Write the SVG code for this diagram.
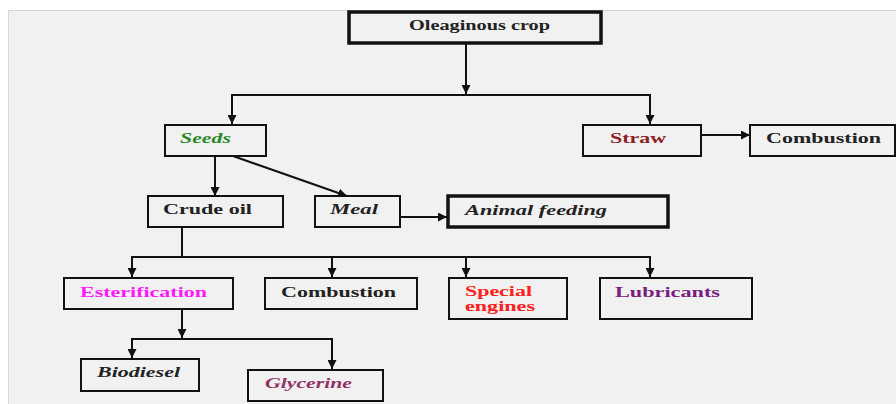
<svg xmlns="http://www.w3.org/2000/svg" width="896" height="404" viewBox="0 0 896 404">
<style>
.box{fill:none;stroke:#111;stroke-width:2}
.thick{fill:none;stroke:#111;stroke-width:3.5}
.t{font-family:'Liberation Serif','Times New Roman','DejaVu Serif',serif;font-weight:bold;font-size:15px;fill:#222}
.s{font-size:14px}
.i{font-style:italic}
.c{fill:none;stroke:#111;stroke-width:2}
</style>
<defs>
<marker id="ah" markerUnits="userSpaceOnUse" markerWidth="9" markerHeight="9" refX="9" refY="4.5" orient="auto" viewBox="0 0 9 9">
<path d="M0,0 L9,4.5 L0,9 z" fill="#111"/>
</marker>
</defs>
<rect x="0" y="0" width="896" height="404" fill="#ffffff"/>
<rect x="8.5" y="10.5" width="888" height="394" fill="#f1f1f1" stroke="#d6d6d6" stroke-width="1"/>

<g id="connectors">
<path class="c" d="M466,44 V94" marker-end="url(#ah)"/>
<path class="c" d="M232,124 V95 H650 V124" />
<path class="c" d="M232,104 V124" marker-end="url(#ah)"/>
<path class="c" d="M650,104 V124" marker-end="url(#ah)"/>
<path class="c" d="M701,135 H750" marker-end="url(#ah)"/>
<path class="c" d="M215,156 V196" marker-end="url(#ah)"/>
<path class="c" d="M233,156 L347,196" marker-end="url(#ah)"/>
<path class="c" d="M400,217 H447" marker-end="url(#ah)"/>
<path class="c" d="M182,227 V257" />
<path class="c" d="M132,277 V257 H650 V277" />
<path class="c" d="M132,265 V277" marker-end="url(#ah)"/>
<path class="c" d="M332,257 V277" marker-end="url(#ah)"/>
<path class="c" d="M466,257 V277" marker-end="url(#ah)"/>
<path class="c" d="M650,265 V277" marker-end="url(#ah)"/>
<path class="c" d="M182,309 V338" marker-end="url(#ah)"/>
<path class="c" d="M132,358 V339 H332 V368" />
<path class="c" d="M132,348 V358" marker-end="url(#ah)"/>
<path class="c" d="M332,358 V369" marker-end="url(#ah)"/>
</g>

<g id="oleaginous">
<rect class="thick" x="349" y="12" width="252" height="31"/>
<text class="t" x="409" y="30" textLength="141" lengthAdjust="spacingAndGlyphs">Oleaginous crop</text>
</g>
<g id="seeds">
<rect class="box" x="165" y="125" width="101" height="31"/>
<text class="t i" x="180" y="143" textLength="51" lengthAdjust="spacingAndGlyphs" style="fill:#2a8a2a">Seeds</text>
</g>
<g id="straw">
<rect class="box" x="583" y="125" width="118" height="31"/>
<text class="t" x="610" y="143" textLength="56" lengthAdjust="spacingAndGlyphs" style="fill:#8e2222">Straw</text>
</g>
<g id="combustion1">
<rect class="box" x="750" y="125" width="145" height="31"/>
<text class="t" x="766" y="143" textLength="115" lengthAdjust="spacingAndGlyphs">Combustion</text>
</g>
<g id="crude-oil">
<rect class="box" x="148" y="196" width="135" height="31"/>
<text class="t" x="163" y="214" textLength="89" lengthAdjust="spacingAndGlyphs">Crude oil</text>
</g>
<g id="meal">
<rect class="box" x="315" y="196" width="85" height="31"/>
<text class="t i" x="330" y="214" textLength="48" lengthAdjust="spacingAndGlyphs">Meal</text>
</g>
<g id="animal-feeding">
<rect class="thick" x="448" y="196" width="220" height="31"/>
<text class="t i" x="465" y="215" textLength="142" lengthAdjust="spacingAndGlyphs">Animal feeding</text>
</g>
<g id="esterification">
<rect class="box" x="64" y="278" width="169" height="31"/>
<text class="t" x="80" y="297" textLength="127" lengthAdjust="spacingAndGlyphs" style="fill:#ff1aff">Esterification</text>
</g>
<g id="combustion2">
<rect class="box" x="265" y="278" width="152" height="31"/>
<text class="t" x="281" y="297" textLength="115" lengthAdjust="spacingAndGlyphs">Combustion</text>
</g>
<g id="special-engines">
<rect class="box" x="449" y="278" width="118" height="41"/>
<text class="t s" x="465" y="296" textLength="67" lengthAdjust="spacingAndGlyphs" style="fill:#ff2020">Special</text>
<text class="t s" x="465" y="311" textLength="70" lengthAdjust="spacingAndGlyphs" style="fill:#ff2020">engines</text>
</g>
<g id="lubricants">
<rect class="box" x="600" y="278" width="152" height="41"/>
<text class="t" x="615" y="297" textLength="105" lengthAdjust="spacingAndGlyphs" style="fill:#7a1f80">Lubricants</text>
</g>
<g id="biodiesel">
<rect class="box" x="81" y="359" width="118" height="32"/>
<text class="t i" x="97" y="377" textLength="83" lengthAdjust="spacingAndGlyphs">Biodiesel</text>
</g>
<g id="glycerine">
<rect class="box" x="248" y="370" width="135" height="31"/>
<text class="t i" x="265" y="388" textLength="87" lengthAdjust="spacingAndGlyphs" style="fill:#8e3363">Glycerine</text>
</g>
</svg>
